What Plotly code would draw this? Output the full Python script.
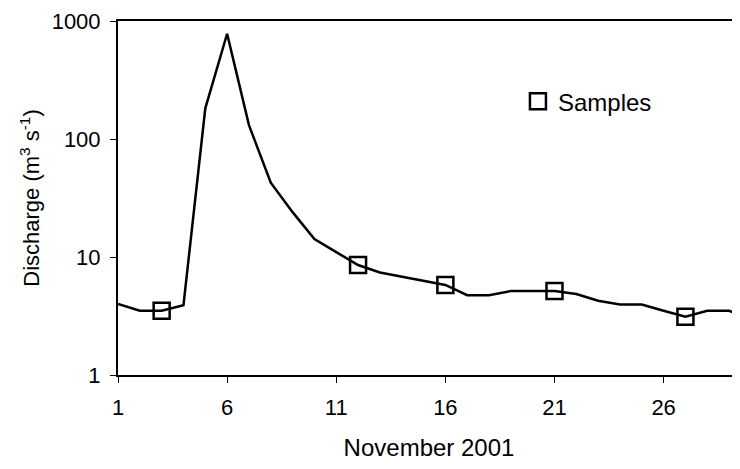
import plotly.graph_objects as go

days = list(range(1, 31))
discharge = [4.0, 3.5, 3.5, 3.9, 182, 780, 131, 42.6, 24, 14.2,
             11, 8.55, 7.4, 6.8, 6.3, 5.8, 4.75, 4.75, 5.15, 5.15,
             5.15, 4.85, 4.26, 3.95, 3.95, 3.5, 3.12, 3.5, 3.5, 2.97]
sample_days = [3, 12, 16, 21, 27]
sample_values = [3.5, 8.55, 5.8, 5.15, 3.12]
x_tick_vals = [1, 6, 11, 16, 21, 26]
y_tick_vals = [1, 10, 100, 1000]
y_tick_text = ["1", "10", "100", "1000"]

FONT = "Liberation Sans, Arial, sans-serif"

fig = go.Figure()
fig.add_trace(go.Scatter(
    x=days, y=discharge, mode="lines",
    line=dict(color="black", width=2.5), showlegend=False,
    hoverinfo="skip"))
fig.add_trace(go.Scatter(
    x=sample_days, y=sample_values, mode="markers", name="Samples",
    marker=dict(symbol="square-open", size=16, color="black",
                line=dict(width=2.5, color="black"))))

fig.update_layout(
    width=732, height=453,
    margin=dict(l=110, r=0, t=13, b=86),
    paper_bgcolor="white", plot_bgcolor="white",
    font=dict(family=FONT, size=22, color="black"),
    legend=dict(x=0.643, y=0.772, xanchor="left", yanchor="middle",
                bgcolor="rgba(0,0,0,0)", font=dict(size=24),
                itemsizing="trace"),
    xaxis=dict(
        range=[1, 29.5], tickvals=x_tick_vals,
        ticktext=[str(v) for v in x_tick_vals],
        showgrid=False, zeroline=False, automargin=False,
        showline=True, linecolor="black", linewidth=2, mirror=True,
        ticks="outside", ticklen=6, tickwidth=1, tickcolor="black",
        ticklabelstandoff=6,
        title=dict(text="November 2001", font=dict(size=24), standoff=24)),
    yaxis=dict(
        type="log", range=[0, 3], tickvals=y_tick_vals, ticktext=y_tick_text,
        showgrid=False, zeroline=False, automargin=False,
        showline=True, linecolor="black", linewidth=2,
        ticks="outside", ticklen=6, tickwidth=1, tickcolor="black",
        ticklabelstandoff=5,
        title=dict(text="Discharge (m<sup>3</sup> s<sup>-1</sup>)",
                   font=dict(size=22), standoff=6)),
)

fig.write_html("out.html")
